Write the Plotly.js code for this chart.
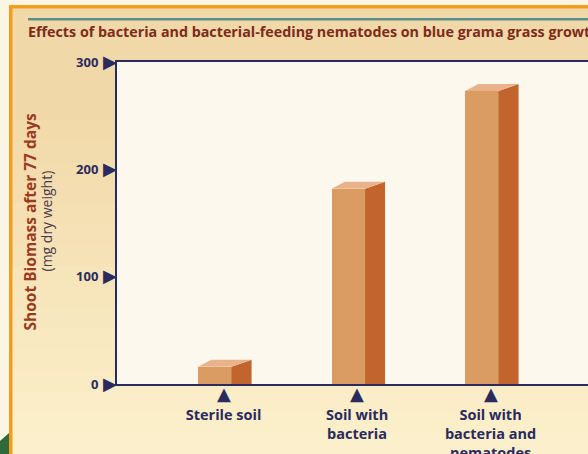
<!DOCTYPE html>
<html><head><meta charset="utf-8">
<script src="https://cdn.plot.ly/plotly-3.0.1.min.js"></script>
<style>html,body{margin:0;padding:0;background:#f1d8a8;overflow:hidden;} #chart{width:588px;height:454px;}</style>
</head><body><div id="chart"></div>
<script>
// ---- data ----
const categories = ['Sterile soil', 'Soil with<br>bacteria', 'Soil with<br>bacteria and<br>nematodes'];
const biomass = [16, 182, 273];
const yTicks = [0, 100, 200, 300];
const yTickLabels = ['0', '100', '200', '300'];
const titleText = 'Effects of bacteria and bacterial-feeding nematodes on blue grama grass growth';
const yTitle = 'Shoot Biomass after 77 days';
const yUnits = '(mg dry weight)';

// ---- layout geometry ----
const W = 588, H = 454, L = 117, T = 62, B = 70, R = 0;
const pw = W - L - R, ph = H - T - B;
const xRange = [-0.798, 2.73], yRange = [0, 300];
const yPerPx = (yRange[1] - yRange[0]) / ph;
const px2x = p => (p - L) / pw;
const py2y = p => (H - B - p) / ph;

const navy = '#2b2a5e';
const xs = categories.map((_, i) => i);
const frontOff = -0.191, frontW = 0.251, depthR = 0.15, depthL = 0.10;
const depthY = 7 * yPerPx;

const traces = [];
traces.push({type: 'bar', x: xs, y: biomass, width: frontW, offset: frontOff,
  marker: {color: '#db9c64', line: {width: 0}}, hoverinfo: 'skip', showlegend: false});
xs.forEach((c, i) => {
  const v = biomass[i];
  const x0 = c + frontOff, x1 = x0 + frontW, x2 = x1 + depthR, xl = x0 + depthL;
  traces.push({type: 'scatter', mode: 'lines', x: [x1, x1, x2, x2, x1], y: [0, v, v + depthY, 0, 0],
    fill: 'toself', fillcolor: '#c2642d', line: {width: 0}, hoverinfo: 'skip', showlegend: false});
  traces.push({type: 'scatter', mode: 'lines', x: [x0, x1, x2, xl, x0], y: [v, v, v + depthY, v + depthY, v],
    fill: 'toself', fillcolor: '#eab28a', line: {width: 0}, hoverinfo: 'skip', showlegend: false});
});

// ---- decorative shapes ----
const shapes = [];
const c0 = [241, 216, 168], c1 = [251, 240, 203];
const nb = 16, yStart = 120, yEnd = 454;
for (let k = 0; k < nb; k++) {
  const t = (k + 1) / nb;
  const col = c0.map((a, j) => Math.round(a + (c1[j] - a) * t));
  const ya = yStart + (yEnd - yStart) * k / nb, yb = yStart + (yEnd - yStart) * (k + 1) / nb;
  shapes.push({type: 'rect', xref: 'paper', yref: 'paper', x0: px2x(0), x1: px2x(W), y0: py2y(ya), y1: py2y(yb + 1),
    fillcolor: `rgb(${col.join(',')})`, line: {width: 0}, layer: 'below'});
}
shapes.push({type: 'rect', xref: 'paper', yref: 'paper', x0: 0, x1: 1, y0: 0, y1: 1,
  fillcolor: '#fdf8ed', line: {width: 0}, layer: 'below'});
shapes.push({type: 'rect', xref: 'paper', yref: 'paper', x0: px2x(0), x1: px2x(9), y0: py2y(0), y1: py2y(H),
  fillcolor: '#fcf5e4', line: {width: 0}, layer: 'below'});
shapes.push({type: 'rect', xref: 'paper', yref: 'paper', x0: px2x(0), x1: px2x(W), y0: py2y(0), y1: py2y(5),
  fillcolor: '#fcf5e4', line: {width: 0}, layer: 'below'});
shapes.push({type: 'rect', xref: 'paper', yref: 'paper', x0: px2x(9), x1: px2x(12.5), y0: py2y(5), y1: py2y(H),
  fillcolor: '#f49c1c', line: {width: 0}, layer: 'below'});
shapes.push({type: 'rect', xref: 'paper', yref: 'paper', x0: px2x(9), x1: px2x(W), y0: py2y(5), y1: py2y(8.5),
  fillcolor: '#f49c1c', line: {width: 0}, layer: 'below'});
shapes.push({type: 'rect', xref: 'paper', yref: 'paper', x0: px2x(28), x1: px2x(W), y0: py2y(18), y1: py2y(20.5),
  fillcolor: '#5a8f8c', line: {width: 0}, layer: 'below'});
shapes.push({type: 'path', xref: 'paper', yref: 'paper',
  path: `M ${px2x(0)},${py2y(441)} L ${px2x(9)},${py2y(433)} L ${px2x(9)},${py2y(H)} L ${px2x(0)},${py2y(H)} Z`,
  fillcolor: '#2f6b3a', line: {width: 0}, layer: 'below'});

// ---- tick triangles (as glyph annotations) and axis titles ----
const annotations = [];
yTicks.forEach(v => annotations.push({text: '▶', xref: 'paper', yref: 'y', x: 0, y: v, xanchor: 'right',
  yanchor: 'middle', xshift: 2, yshift: 1, showarrow: false,
  font: {family: "'DejaVu Sans', sans-serif", size: 18, color: navy}}));
xs.forEach(c => annotations.push({text: '▲', xref: 'x', yref: 'paper', x: c, y: 0, xanchor: 'center',
  yanchor: 'top', yshift: 3, showarrow: false,
  font: {family: "'DejaVu Sans', sans-serif", size: 18, color: navy}}));
annotations.push({text: yTitle, xref: 'paper', yref: 'paper', x: px2x(29.5), y: py2y(222), xanchor: 'center',
  yanchor: 'middle', textangle: -90, showarrow: false,
  font: {family: "'Open Sans', sans-serif", size: 15.5, weight: 'bold', color: '#9c3a1f'}});
annotations.push({text: yUnits, xref: 'paper', yref: 'paper', x: px2x(45.5), y: py2y(221), xanchor: 'center',
  yanchor: 'middle', textangle: -90, showarrow: false,
  font: {family: "'Open Sans', sans-serif", size: 14, color: '#4a3a4a'}});

const layout = {
  width: W, height: H,
  margin: {l: L, r: R, t: T, b: B, pad: 0},
  paper_bgcolor: '#f1d8a8', plot_bgcolor: '#fdf8ed',
  showlegend: false,
  title: {text: titleText, xref: 'container', yref: 'container', x: 28 / W, xanchor: 'left',
    y: 1 - 32 / H, yanchor: 'middle',
    font: {family: "'Open Sans', sans-serif", size: 14.3, weight: 'bold', color: '#7d2b1b'}},
  xaxis: {range: xRange, tickvals: xs, ticktext: categories, showline: true, linecolor: navy, linewidth: 2,
    mirror: true, showgrid: false, zeroline: false, ticks: '', ticklabelstandoff: 17, fixedrange: true,
    tickfont: {family: "'Open Sans', sans-serif", size: 14.5, weight: 'bold', color: navy}},
  yaxis: {range: yRange, tickvals: yTicks, ticktext: yTickLabels, showline: true, linecolor: navy, linewidth: 2,
    showgrid: false, zeroline: false, ticks: '', ticklabelstandoff: 14, fixedrange: true,
    tickfont: {family: "'Open Sans', sans-serif", size: 13, weight: 'bold', color: navy}},
  bargap: 0,
  shapes: shapes,
  annotations: annotations
};

Plotly.newPlot('chart', traces, layout, {displayModeBar: false, staticPlot: true});
</script>
</body></html>
